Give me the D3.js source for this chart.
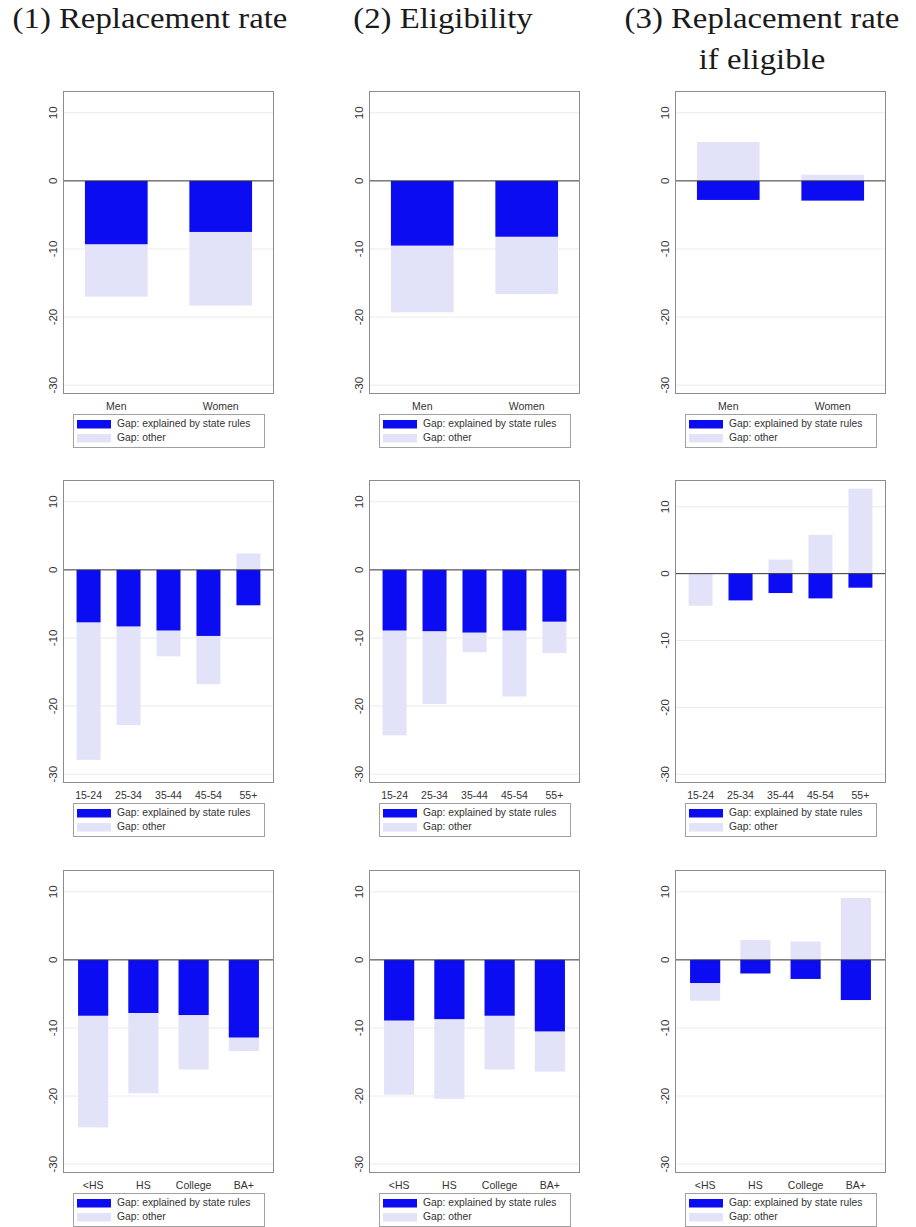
<!DOCTYPE html>
<html lang="en">
<head>
<meta charset="utf-8">
<title>Gaps explained by state rules</title>
<script src="https://d3js.org/d3.v7.min.js"></script>
<style>
  body { margin: 0; background: #fff; }
  svg { display: block; }
  .title { font-family: "Liberation Serif", "Times New Roman", serif; font-size: 29px; fill: #1a1a1a; }
  .ylab { font-family: "Liberation Sans", Arial, sans-serif; font-size: 11.5px; fill: #333; }
  .xlab { font-family: "Liberation Sans", Arial, sans-serif; font-size: 10.5px; fill: #333; }
  .leg { font-family: "Liberation Sans", Arial, sans-serif; font-size: 10.3px; fill: #333; }
</style>
</head>
<body>
<script>
// categories
const sexCats = ["Men", "Women"];
const ageCats = ["15-24", "25-34", "35-44", "45-54", "55+"];
const eduCats = ["<HS", "HS", "College", "BA+"];

// (1) replacement rate
const rateSexExplained = [-9.3, -7.5];
const rateSexTotal     = [-17.0, -18.3];
const rateAgeExplained = [-7.7, -8.3, -8.9, -9.7, -5.2];
const rateAgeTotal     = [-27.9, -22.8, -12.7, -16.8, 2.4];
const rateEduExplained = [-8.2, -7.8, -8.1, -11.4];
const rateEduTotal     = [-24.6, -19.6, -16.1, -13.4];

// (2) eligibility
const eligSexExplained = [-9.5, -8.2];
const eligSexTotal     = [-19.3, -16.6];
const eligAgeExplained = [-8.9, -9.0, -9.2, -8.9, -7.6];
const eligAgeTotal     = [-24.3, -19.7, -12.1, -18.6, -12.2];
const eligEduExplained = [-8.9, -8.7, -8.2, -10.5];
const eligEduTotal     = [-19.8, -20.4, -16.1, -16.4];

// (3) replacement rate if eligible
const condSexExplained = [-2.8, -2.9];
const condSexTotal     = [5.7, 0.9];
const condAgeExplained = [0, -4.0, -2.9, -3.7, -2.1];
const condAgeTotal     = [-4.8, -3.9, 2.1, 5.8, 12.7];
const condEduExplained = [-3.4, -2.0, -2.8, -5.9];
const condEduTotal     = [-6.0, 2.9, 2.7, 9.1];

const titles = [["(1) Replacement rate"], ["(2) Eligibility"], ["(3) Replacement rate", "if eligible"]];
const yTicks = [-30, -20, -10, 0, 10];
const legendLabels = ["Gap: explained by state rules", "Gap: other"];

const panels = [
  {row: 0, col: 0, cats: sexCats, expl: rateSexExplained, total: rateSexTotal},
  {row: 0, col: 1, cats: sexCats, expl: eligSexExplained, total: eligSexTotal},
  {row: 0, col: 2, cats: sexCats, expl: condSexExplained, total: condSexTotal},
  {row: 1, col: 0, cats: ageCats, expl: rateAgeExplained, total: rateAgeTotal},
  {row: 1, col: 1, cats: ageCats, expl: eligAgeExplained, total: eligAgeTotal},
  {row: 1, col: 2, cats: ageCats, expl: condAgeExplained, total: condAgeTotal},
  {row: 2, col: 0, cats: eduCats, expl: rateEduExplained, total: rateEduTotal},
  {row: 2, col: 1, cats: eduCats, expl: eligEduExplained, total: eligEduTotal},
  {row: 2, col: 2, cats: eduCats, expl: condEduExplained, total: condEduTotal}
];

const W = 916, H = 1227;
const colX = [63, 369, 675];
const rowY = [91, 480, 870];
const pw = 211, ph = 303;
const darkBlue = "#0c0cf2", lightBlue = "#e2e2f9";
const outerPad = {2: 0.21, 4: 0.3, 5: 0.34};

const svg = d3.select("body").append("svg")
  .attr("width", W).attr("height", H);

// column titles
const titleX = [150, 443, 762];
titles.forEach((lines, i) => {
  lines.forEach((t, j) => {
    const txt = svg.append("text")
      .attr("class", "title")
      .attr("x", titleX[i])
      .attr("y", 28 + j * 41)
      .attr("text-anchor", "middle")
      .text(t);
    // widen a little, the original face is broader than Times
    const len = txt.node().getComputedTextLength();
    txt.attr("textLength", len * 1.13).attr("lengthAdjust", "spacingAndGlyphs");
  });
});

panels.forEach(p => {
  const g = svg.append("g")
    .attr("transform", `translate(${colX[p.col]},${rowY[p.row]})`);

  const x = d3.scaleBand()
    .domain(p.cats)
    .range([0, pw])
    .paddingInner(0.4)
    .paddingOuter(outerPad[p.cats.length]);

  const yTop = Math.max(13.2, d3.max(p.total) + 1.3);
  const y = d3.scaleLinear().domain([-31.3, yTop]).range([ph, 0]);

  // gridlines
  g.selectAll(".grid")
    .data(yTicks.filter(d => d !== 0))
    .enter().append("line")
    .attr("x1", 1).attr("x2", pw - 1)
    .attr("y1", d => y(d)).attr("y2", d => y(d))
    .attr("stroke", "#ebebeb").attr("stroke-width", 1);

  const bar = (sel, vals, color) => {
    sel.selectAll(null)
      .data(vals.map((v, i) => ({cat: p.cats[i], v: v})))
      .enter().append("rect")
      .attr("x", d => x(d.cat))
      .attr("width", x.bandwidth())
      .attr("y", d => y(Math.max(0, d.v)))
      .attr("height", d => Math.abs(y(d.v) - y(0)))
      .attr("fill", color);
  };
  bar(g, p.total, lightBlue);
  bar(g, p.expl, darkBlue);

  // zero line
  g.append("line")
    .attr("x1", 0).attr("x2", pw)
    .attr("y1", y(0)).attr("y2", y(0))
    .attr("stroke", "#333").attr("stroke-width", 1);

  // frame
  g.append("rect")
    .attr("x", 0.5).attr("y", 0.5)
    .attr("width", pw - 1).attr("height", ph - 1)
    .attr("fill", "none").attr("stroke", "#8c8c8c").attr("stroke-width", 1);

  // y tick labels, rotated
  g.selectAll(".ylab")
    .data(yTicks)
    .enter().append("text")
    .attr("class", "ylab")
    .attr("transform", d => `translate(-6,${y(d)}) rotate(-90)`)
    .attr("text-anchor", "middle")
    .text(d => d);

  // category labels
  g.selectAll(".xlab")
    .data(p.cats)
    .enter().append("text")
    .attr("class", "xlab")
    .attr("x", d => x(d) + x.bandwidth() / 2)
    .attr("y", ph + 16)
    .attr("text-anchor", "middle")
    .text(d => d);

  // legend
  const lg = g.append("g").attr("transform", `translate(10,${ph + 20})`);
  lg.append("rect")
    .attr("x", 0.5).attr("y", 0.5)
    .attr("width", 191).attr("height", 33)
    .attr("fill", "#fff").attr("stroke", "#a0a0a0");
  legendLabels.forEach((lab, i) => {
    lg.append("rect")
      .attr("x", 4).attr("y", 6 + i * 14)
      .attr("width", 34).attr("height", 8.5)
      .attr("fill", i === 0 ? darkBlue : lightBlue);
    lg.append("text")
      .attr("class", "leg")
      .attr("x", 44).attr("y", 10.5 + i * 14)
      .attr("dominant-baseline", "middle")
      .text(lab);
  });
});
</script>
</body>
</html>
